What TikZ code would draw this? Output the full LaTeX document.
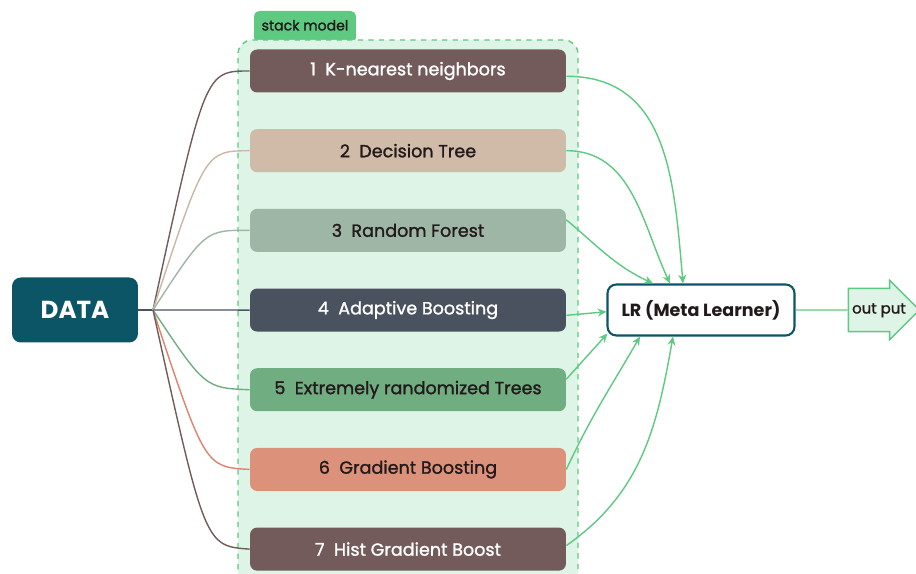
\documentclass[tikz,border=0pt]{standalone}
\usepackage{fontspec}
\setmainfont{Poppins}
\newfontfamily\medfont{Poppins}[FakeBold=1.3]
\usepackage{xcolor}
\usepackage{tikz}
\usetikzlibrary{shapes, arrows.meta, positioning, calc}

\definecolor{teal}{HTML}{0C5566}
\definecolor{leaf}{HTML}{5DC981}
\definecolor{mint}{HTML}{DDF4E6}
\definecolor{knn}{HTML}{745B5B}
\definecolor{dtree}{HTML}{CFBBA8}
\definecolor{rforest}{HTML}{9EB6A6}
\definecolor{ada}{HTML}{4A5260}
\definecolor{extra}{HTML}{70AE81}
\definecolor{gboost}{HTML}{DB917A}
\definecolor{inktxt}{HTML}{221A1A}

\begin{document}
\begin{tikzpicture}[
  x=0.02cm, y=0.02cm,
  model/.style={rectangle, rounded corners=4pt, inner sep=0pt,
                minimum width=6.32cm, minimum height=0.86cm,
                font=\medfont\fontsize{10}{12}\selectfont, text=inktxt},
  fan/.style={line width=0.8pt},
  feed/.style={-{Stealth[length=5pt, width=4.5pt]}, leaf, line width=0.8pt}
]
  \useasboundingbox (0,0) rectangle (916,574);

  % stack frame with its tab
  \node[fill=leaf, rounded corners=3pt, minimum width=2.04cm,
        minimum height=0.64cm, inner sep=0pt, font=\medfont\fontsize{8}{9}\selectfont,
        text=inktxt, text depth=0pt] (tab) at (305,547) {\raisebox{2pt}{stack model}};
  \draw[leaf, fill=mint, dashed, line width=0.8pt, rounded corners=8pt]
    (238,-20) rectangle (578,534);

  % input
  \node[fill=teal, rounded corners=5pt, minimum width=2.52cm, minimum height=1.3cm,
        text=white, font=\fontsize{14}{17}\selectfont\bfseries] (data) at (75,264) {DATA};
  \coordinate (fork) at (153,264);

  % base models
  \node[model, fill=knn, text=white] (m1) at (408,503) {1\ \ K-nearest neighbors};
  \node[model, fill=dtree, below=0.72cm of m1] (m2) {2\ \ Decision Tree};
  \node[model, fill=rforest, below=0.72cm of m2] (m3) {3\ \ Random Forest};
  \node[model, fill=ada, text=white, below=0.72cm of m3] (m4) {4\ \ Adaptive Boosting};
  \node[model, fill=extra, below=0.72cm of m4] (m5) {5\ \ Extremely randomized Trees};
  \node[model, fill=gboost, below=0.72cm of m5] (m6) {6\ \ Gradient Boosting};
  \node[model, fill=knn, text=white, below=0.72cm of m6] (m7) {7\ \ Hist Gradient Boost};

  % meta learner and output
  \node[draw=teal, fill=white, line width=1.2pt, rounded corners=5pt,
        minimum width=3.74cm, minimum height=1.02cm, text=inktxt,
        font=\fontsize{10}{12}\selectfont\bfseries] (lr) at (701,264) {LR (Meta Learner)};
  \node[single arrow, draw=leaf, fill=mint, line width=0.8pt,
        single arrow head extend=0.16cm, minimum height=1.42cm,
        inner xsep=0pt, inner ysep=7.9pt, text height=6pt, text depth=2pt,
        text=inktxt, font=\medfont\fontsize{8.5}{10}\selectfont] (out) at (873,264)
        {\makebox[0pt]{\hspace*{6.8pt}out put}};

  % data fan
  \draw[fan, ada] (data) -- (fork);
  \draw[fan, knn] (fork) .. controls (205,503) .. (m1.west);
  \draw[fan, dtree!90!black!20!dtree] (fork) .. controls (205,423) .. (m2.west);
  \draw[fan, rforest] (fork) .. controls (205,344) .. (m3.west);
  \draw[fan, ada] (fork) -- (m4.west);
  \draw[fan, extra] (fork) .. controls (205,186) .. (m5.west);
  \draw[fan, gboost!90!red] (fork) .. controls (205,107) .. (m6.west);
  \draw[fan, knn] (fork) .. controls (205,28) .. (m7.west);

  % into the meta learner
  \draw[feed] ([yshift=-3pt]m1.east) to[out=0, in=95, looseness=1.1] ($(lr.north)+(-18,0)$);
  \draw[feed] (m2.east) to[out=0, in=115, looseness=1.0] ($(lr.north)+(-31,0)$);
  \draw[feed] ([yshift=6pt]m3.east) to[out=-40, in=155] ($(lr.north)+(-48,0)$);
  \draw[feed] ([yshift=-3pt]m4.east) -- ([yshift=-1pt]lr.west);
  \draw[feed] ([yshift=6pt]m5.east) -- ($(lr.south west)+(1,3)$);
  \draw[feed] (m6.east) to[out=65, in=240] ($(lr.south)+(-61,0)$);
  \draw[feed] ([yshift=2pt]m7.east) to[out=35, in=-100] ($(lr.south)+(-28,0)$);
  \draw[leaf, line width=0.8pt] (lr) -- (out);
\end{tikzpicture}
\end{document}
